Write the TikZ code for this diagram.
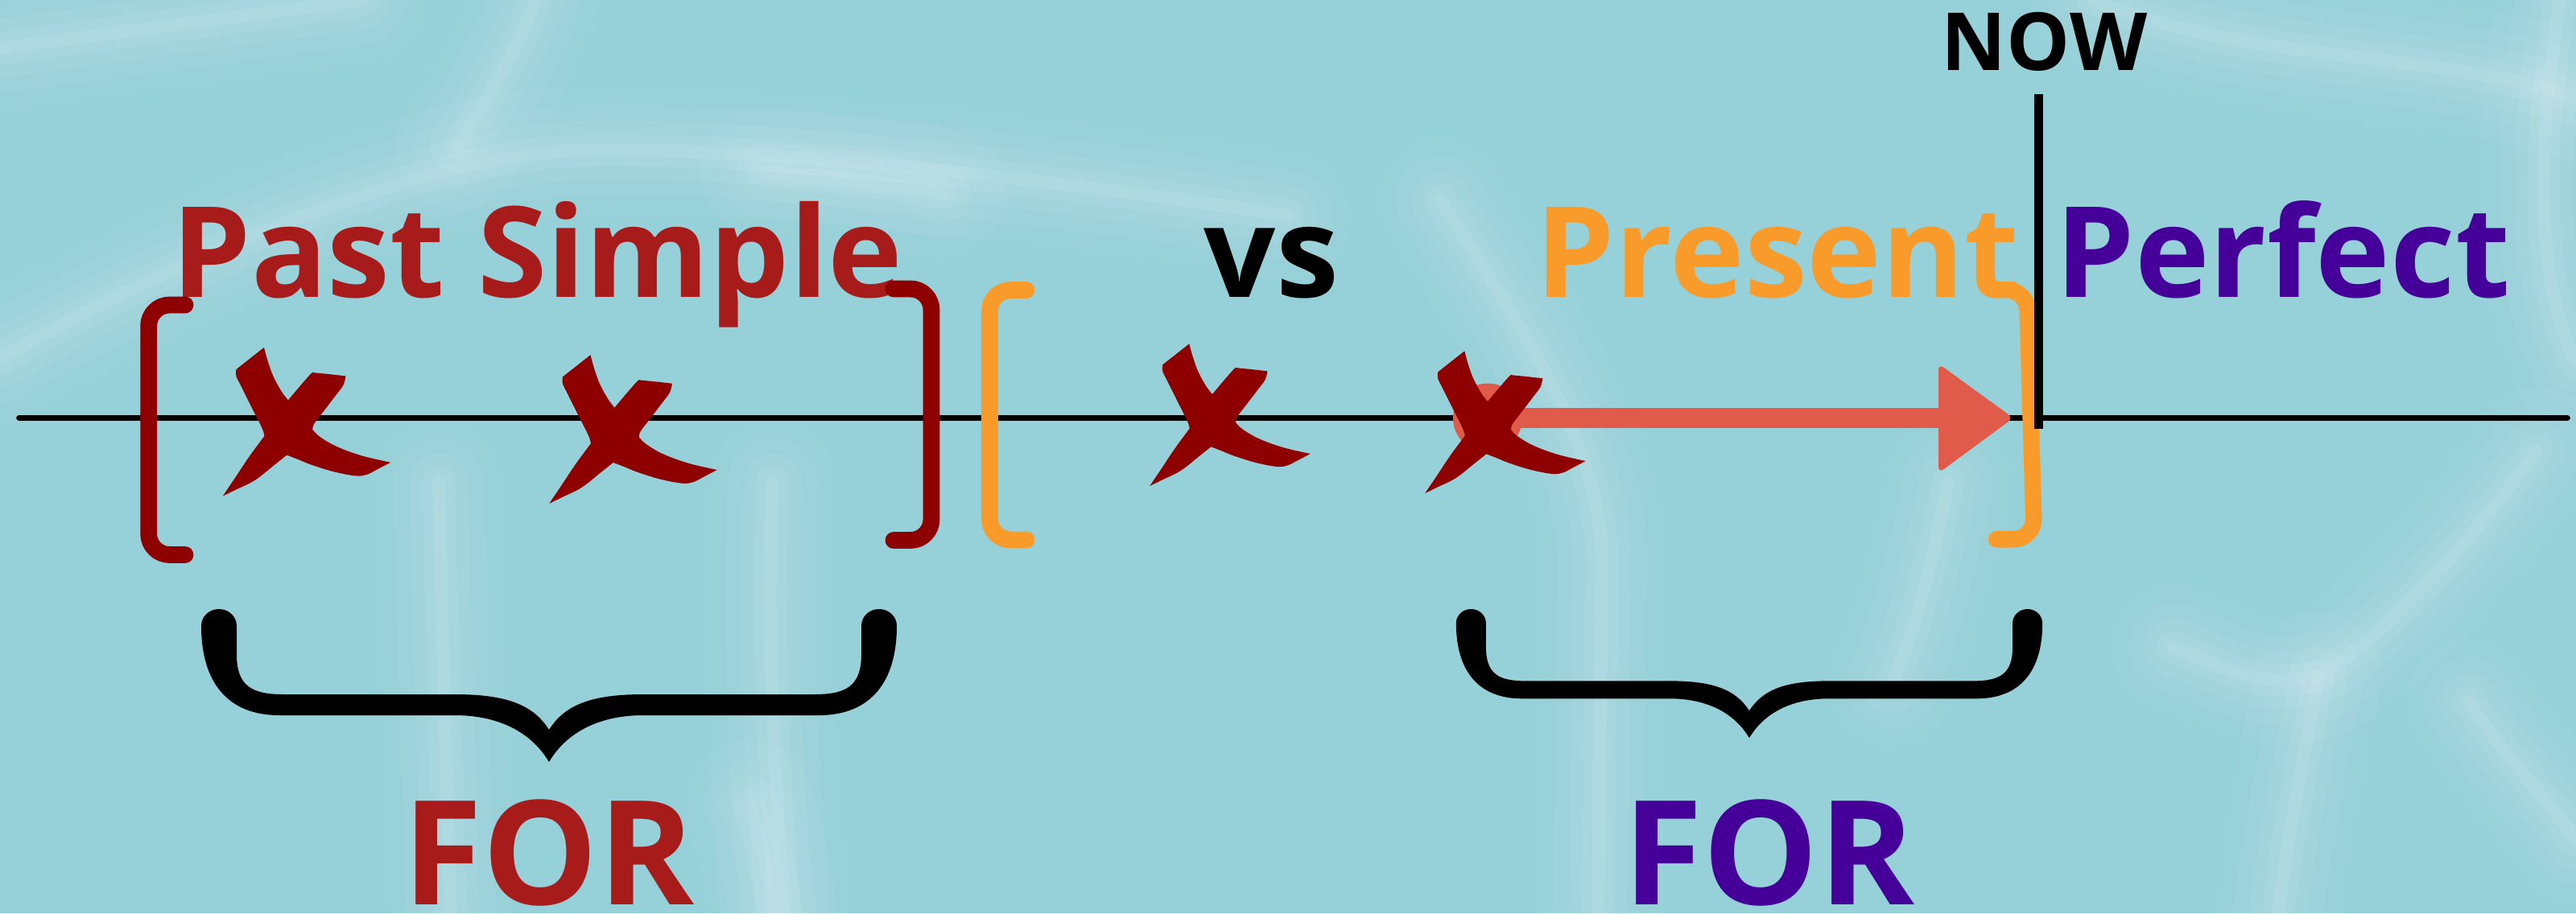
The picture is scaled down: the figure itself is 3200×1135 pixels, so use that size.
\documentclass[tikz,border=0pt]{standalone}
\usepackage{fontspec}
\setmainfont{Open Sans}
\definecolor{bgc}{RGB}{150,208,216}
\definecolor{txtred}{RGB}{167,27,27}
\definecolor{xred}{RGB}{142,0,0}
\definecolor{orng}{RGB}{249,155,43}
\definecolor{purp}{RGB}{68,0,153}
\definecolor{coral}{RGB}{224,91,74}
\tikzset{
  lbl/.style={inner sep=0pt, anchor=base west, font=\bfseries\fontsize{39.2}{40}\selectfont},
  forlbl/.style={inner sep=0pt, anchor=base west, font=\bfseries\fontsize{45.1}{46}\selectfont},
  nowlbl/.style={inner sep=0pt, anchor=base west, font=\bfseries\fontsize{24.9}{26}\selectfont},
  bracketline/.style={line width=5.2pt, line cap=round, line join=round, rounded corners=6.5pt},
  glow1/.style={white, opacity=0.035, line width=40pt, line cap=round, line join=round},
  glow2/.style={white, opacity=0.045, line width=28pt, line cap=round, line join=round},
  glow3/.style={white, opacity=0.055, line width=18pt, line cap=round, line join=round},
  glow4/.style={white, opacity=0.065, line width=10pt, line cap=round, line join=round},
  glow5/.style={white, opacity=0.075, line width=4pt, line cap=round, line join=round},
  xcross/.pic={
    \fill[xred] plot[smooth,tension=0.6] coordinates {(-28.7,-98.7) (-24.3,-82.7) (-17.7,-64.3) (-7.7,-46) (0,-36)}
      -- plot[smooth,tension=0.6] coordinates {(0,-36) (14,-52.7) (27.3,-67.7) (30.7,-68.7)}
      -- plot[smooth,tension=0.6] coordinates {(30.7,-68.7) (50.7,-66.7) (68.3,-64.7)}
      -- plot[smooth,tension=0.6] coordinates {(68.3,-64.7) (65.7,-54.3) (57.3,-42.7) (40.7,-21) (30.7,-7.7) (29,-1)}
      -- plot[smooth,tension=0.6] coordinates {(29,-1) (37.3,7.3) (57.3,19) (87.3,30) (121.7,38)}
      -- plot[smooth,tension=0.6] coordinates {(121.7,38) (104,47.3) (94,52.3) (80.7,54) (54,49) (27.3,40.7) (10.7,34) (-1.7,29.3)}
      -- plot[smooth,tension=0.6] coordinates {(-1.7,29.3) (-16,40.7) (-39.3,59) (-62.7,70.7) (-77.7,78)}
      -- plot[smooth,tension=0.6] coordinates {(-77.7,78) (-62.7,55.7) (-46,30.7) (-28.3,6.7)}
      -- plot[smooth,tension=0.6] coordinates {(-28.3,6.7) (-31,-2.7) (-42.7,-26) (-56,-52.7) (-61.7,-64.3) (-61.7,-72.7)}
      -- cycle;
  },
  cbrace/.pic={
    \fill[black] (-388,21) .. controls (-388,9) and (-398,0) .. (-410,0)
      .. controls (-422,0) and (-432,9) .. (-432,21)
      .. controls (-432,90) and (-400,132) .. (-335,132) -- (-117,132)
      .. controls (-70,132) and (-25,148) .. (0,190)
      .. controls (25,148) and (70,132) .. (117,132) -- (335,132)
      .. controls (400,132) and (432,90) .. (432,21)
      .. controls (432,9) and (422,0) .. (410,0)
      .. controls (398,0) and (388,9) .. (388,21) -- (388,56)
      .. controls (388,95) and (370,106) .. (330,106) -- (117,106)
      .. controls (55,106) and (20,118) .. (0,150)
      .. controls (-20,118) and (-55,106) .. (-117,106) -- (-330,106)
      .. controls (-370,106) and (-388,95) .. (-388,56) -- cycle;
  }
}
\newcommand\mystreak[1]{\draw[glow1] #1; \draw[glow2] #1; \draw[glow3] #1; \draw[glow4] #1; \draw[glow5] #1;}
\begin{document}
\begin{tikzpicture}[x=0.25pt,y=-0.25pt]
\useasboundingbox (0,0) rectangle (3200,1135);
\fill[bgc] (0,0) rectangle (3200,1135);
% water streaks
\begin{scope}
\clip (0,0) rectangle (3200,1135);
\mystreak{(665,0) .. controls (640,70) and (600,130) .. (570,180)}
\mystreak{(0,446) .. controls (200,330) and (500,200) .. (714,187) .. controls (900,180) and (1300,220) .. (1600,268)}
\mystreak{(960,600) .. controls (950,800) and (965,1000) .. (975,1135)}
\mystreak{(930,1000) .. controls (945,1040) and (955,1090) .. (960,1135)}
\mystreak{(1790,250) .. controls (1900,420) and (1990,560) .. (1990,700) -- (1985,1135)}
\mystreak{(0,60) .. controls (150,40) and (300,20) .. (450,0)}
\mystreak{(3150,560) .. controls (3050,700) and (2950,800) .. (2880,840) .. controls (2800,860) and (2750,820) .. (2700,805)}
\mystreak{(2880,840) .. controls (2860,950) and (2840,1050) .. (2830,1135)}
\mystreak{(3067,873) .. controls (3120,950) and (3170,1000) .. (3200,1044)}
\mystreak{(3180,0) .. controls (3150,200) and (3150,350) .. (3200,450)}
\mystreak{(2600,0) .. controls (2800,80) and (3000,60) .. (3200,120)}
\mystreak{(545,600) .. controls (550,800) and (555,1000) .. (560,1135)}
\mystreak{(2420,600) .. controls (2400,700) and (2380,780) .. (2350,850)}
\mystreak{(950,214) .. controls (1050,220) and (1120,230) .. (1170,241)}
\end{scope}
% titles
\node[lbl, text=txtred] (past) at (213,369) {Past Simple};
\node[lbl, text=black] (vs) at (1495,369) {vs};
\node[lbl, text=orng] (present) at (1907,369) {Present};
\node[lbl, text=purp] (perfect) at (2553,369) {Perfect};
\node[nowlbl, text=black] (now) at (2411,87) {NOW};
% timeline
\coordinate (tlL) at (24,519.5);
\coordinate (tlR) at (3189,519.5);
\draw[line width=1.93pt, line cap=round] (tlL) -- (tlR);
% brackets
\draw[bracketline, xred] (230,379) -- (184.7,379) -- (184.7,689.5) -- (230,689.5);
\draw[bracketline, xred] (1110,359) -- (1157,359) -- (1157,671.5) -- (1110,671.5);
\draw[bracketline, orng] (1275,360.5) -- (1229.5,360.5) -- (1229.5,671) -- (1275,671);
% arrow
\coordinate (arrS) at (1848,519.5);
\coordinate (arrE) at (2408,519.5);
\fill[coral] (arrS) circle[radius=43];
\draw[coral, line width=6.25pt] (arrS) -- (arrE);
\fill[coral, rounded corners=2pt] (2408,452) -- (2501,519.5) -- (2408,588) -- cycle;
% crosses
\pic[scale=1.045] at (358,535) {xcross};
\pic[scale=1.045] at (763.5,544.3) {xcross};
\pic at (1506,526) {xcross};
\pic at (1848,535) {xcross};
% present bracket and NOW line
\draw[bracketline, orng, line width=5.1pt] (2475,360) -- (2518,360) -- (2527,670.3) -- (2480,670.3);
\coordinate (nowT) at (2532.5,117);
\coordinate (nowB) at (2532.5,533.3);
\draw[line width=2.6pt] (nowT) -- (nowB);
% braces
\pic at (682,757) {cbrace};
\pic[scale=0.843] at (2173,757) {cbrace};
% FOR labels
\node[forlbl, text=txtred] (for1) at (500,1124) {FOR};
\node[forlbl, text=purp] (for2) at (2016,1124) {FOR};
\end{tikzpicture}
\end{document}
